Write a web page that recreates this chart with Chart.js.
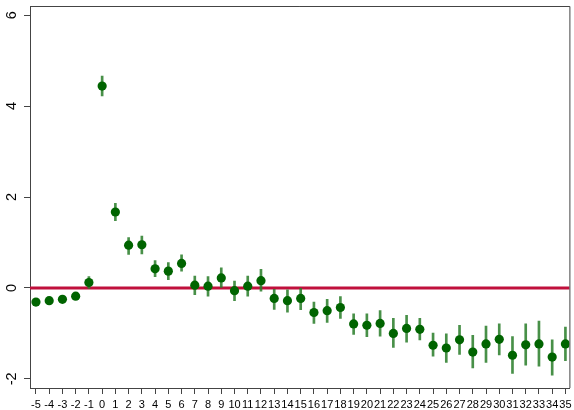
<!DOCTYPE html>
<html>
<head>
<meta charset="utf-8">
<script src="https://cdn.jsdelivr.net/npm/chart.js@4"></script>
<style>
	html, body { margin: 0; padding: 0; background: #fff; }
	#wrap { width: 574px; height: 410px; }
</style>
</head>
<body>
<div id="wrap"><canvas id="myChart"></canvas></div>
<script>
// event time relative to treatment
const periods = [-5, -4, -3, -2, -1, 0, 1, 2, 3, 4, 5, 6, 7, 8, 9, 10, 11, 12, 13, 14, 15,
	16, 17, 18, 19, 20, 21, 22, 23, 24, 25, 26, 27, 28, 29, 30, 31, 32, 33, 34, 35];

// point estimates
const estimates = [-0.31, -0.28, -0.25, -0.18, 0.12,
	4.44, 1.67, 0.94, 0.95, 0.42, 0.37, 0.54, 0.06, 0.04, 0.22,
	-0.06, 0.04, 0.16, -0.23, -0.28, -0.23, -0.54, -0.50, -0.43, -0.79,
	-0.82, -0.78, -1.00, -0.89, -0.91, -1.26, -1.32, -1.14, -1.41, -1.23,
	-1.13, -1.48, -1.25, -1.23, -1.52, -1.23];

// confidence interval bounds
const ciLower = [-0.35, -0.32, -0.29, -0.22, -0.01,
	4.22, 1.48, 0.74, 0.75, 0.25, 0.18, 0.37, -0.15, -0.18, 0.00,
	-0.28, -0.18, -0.07, -0.47, -0.53, -0.48, -0.78, -0.76, -0.67, -1.02,
	-1.07, -1.06, -1.31, -1.19, -1.14, -1.50, -1.64, -1.46, -1.76, -1.64,
	-1.47, -1.88, -1.70, -1.72, -1.92, -1.60];
const ciUpper = [-0.27, -0.24, -0.21, -0.14, 0.25,
	4.66, 1.86, 1.11, 1.14, 0.60, 0.56, 0.73, 0.26, 0.25, 0.44,
	0.15, 0.26, 0.41, -0.03, -0.04, -0.01, -0.31, -0.25, -0.19, -0.57,
	-0.57, -0.50, -0.67, -0.60, -0.67, -0.99, -1.01, -0.82, -1.04, -0.84,
	-0.79, -1.07, -0.79, -0.73, -1.14, -0.86];

const yTicks = [-2, 0, 2, 4, 6];
const refLine = 0;

const initChart = () => {
	const myChartCanvas = document.getElementById("myChart");

	// horizontal reference line across the plot
	const refLinePlugin = {
		id: "refLine",
		beforeDatasetsDraw(chart) {
			const { ctx, chartArea, scales } = chart;
			const y = scales.y.getPixelForValue(refLine);
			ctx.save();
			ctx.strokeStyle = "#c0103c";
			ctx.lineWidth = 3;
			ctx.beginPath();
			ctx.moveTo(chartArea.left, y);
			ctx.lineTo(chartArea.right, y);
			ctx.stroke();
			ctx.restore();
		},
	};

	// top and right frame, plus the rotated y tick labels
	const framePlugin = {
		id: "frame",
		afterDraw(chart) {
			const { ctx, chartArea, scales } = chart;
			ctx.save();
			ctx.strokeStyle = "#444";
			ctx.lineWidth = 1;
			ctx.beginPath();
			ctx.moveTo(chartArea.left, chartArea.top + 0.5);
			ctx.lineTo(chartArea.right + 0.5, chartArea.top + 0.5);
			ctx.lineTo(chartArea.right + 0.5, chartArea.bottom);
			ctx.stroke();

			ctx.fillStyle = "#000";
			ctx.font = "14.5px 'Liberation Sans'";
			ctx.textAlign = "center";
			ctx.textBaseline = "middle";
			scales.y.ticks.forEach((t) => {
				const y = scales.y.getPixelForValue(t.value);
				ctx.save();
				ctx.translate(12, y);
				ctx.rotate(-Math.PI / 2);
				ctx.fillText(String(t.value), 0, 0);
				ctx.restore();
			});
			ctx.restore();
		},
	};

	const chart = new Chart(myChartCanvas, {
		data: {
			datasets: [
				{
					type: "bar",
					order: 1,
					data: periods.map((p, i) => ({ x: p, y: [ciLower[i], ciUpper[i]] })),
					backgroundColor: "rgba(40,125,40,0.85)",
					barThickness: 2,
					borderWidth: 0,
				},
				{
					type: "scatter",
					order: 0,
					data: periods.map((p, i) => ({ x: p, y: estimates[i] })),
					pointRadius: 4.6,
					pointBackgroundColor: "#006400",
					pointBorderWidth: 0,
				},
			],
		},
		options: {
			responsive: true,
			maintainAspectRatio: false,
			animation: false,
			layout: {
				padding: { top: 6, right: 2, left: 0, bottom: 0 },
			},
			scales: {
				x: {
					type: "linear",
					offset: false,
					min: -5.45,
					max: 35.3,
					afterBuildTicks: (scale) => {
						scale.ticks = periods.map((v) => ({ value: v }));
					},
					afterFit: (scale) => {
						scale.height = 22;
						scale.paddingLeft = 0;
						scale.paddingRight = 0;
					},
					grid: {
						offset: false,
						drawOnChartArea: false,
						drawTicks: true,
						tickLength: 6,
						tickColor: "#444",
					},
					border: { display: true, color: "#444", width: 1 },
					ticks: {
						autoSkip: false,
						maxRotation: 0,
						minRotation: 0,
						padding: 4,
						color: "#000",
						font: { family: "Liberation Sans", size: 11 },
					},
				},
				y: {
					type: "linear",
					min: -2.2,
					max: 6.2,
					afterBuildTicks: (scale) => {
						scale.ticks = yTicks.map((v) => ({ value: v }));
					},
					afterFit: (scale) => {
						scale.width = 30;
						scale.paddingTop = 0;
						scale.paddingBottom = 0;
					},
					grid: {
						drawOnChartArea: false,
						drawTicks: true,
						tickLength: 6,
						tickColor: "#444",
					},
					border: { display: true, color: "#444", width: 1 },
					ticks: {
						display: false,
					},
				},
			},
			plugins: {
				legend: { display: false },
				tooltip: { enabled: false },
			},
		},
		plugins: [refLinePlugin, framePlugin],
	});

	return chart;
};

window.onload = (event) => {
	var chart = initChart();
};
</script>
</body>
</html>
